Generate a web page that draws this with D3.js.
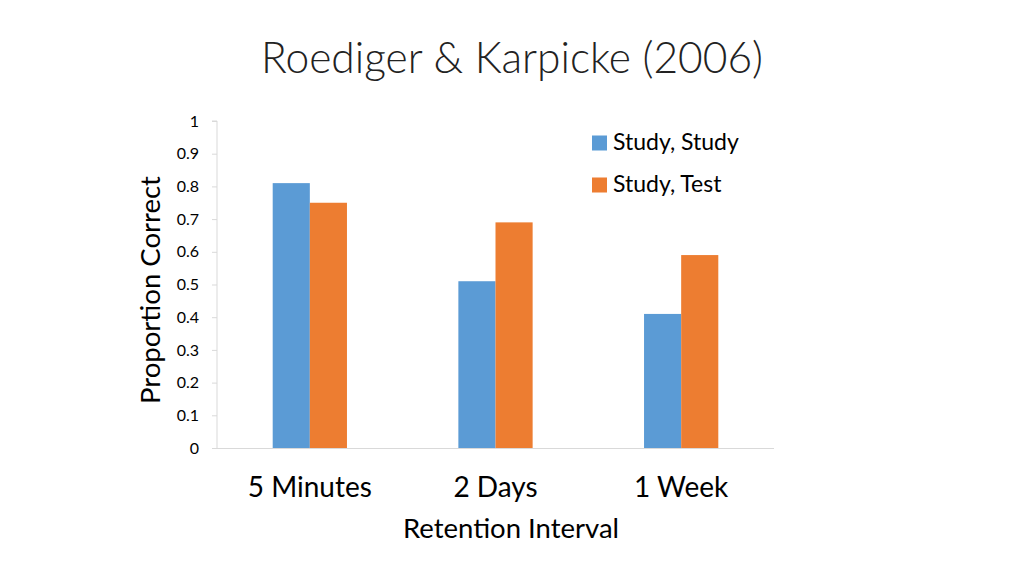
<!DOCTYPE html>
<html><head><meta charset="utf-8">
<script src="https://cdn.jsdelivr.net/npm/d3@7"></script>
<style>body{margin:0;background:#fff;} svg{display:block;}</style>
</head><body>
<script>
const categories = ["5 Minutes", "2 Days", "1 Week"];
const seriesNames = ["Study, Study", "Study, Test"];
const studyStudy = [0.81, 0.51, 0.41];
const studyTest = [0.75, 0.69, 0.59];
const yTicks = [0, 0.1, 0.2, 0.3, 0.4, 0.5, 0.6, 0.7, 0.8, 0.9, 1];
const colors = ["#5B9BD5", "#ED7D31"];

(function () {
const W = 1024, H = 576;
const font = "Lato, 'Open Sans', sans-serif";
const svg = d3.select("body").append("svg").attr("width", W).attr("height", H);

const mLeft = 217, mRight = 774, mTop = 121, mBottom = 448;
const x = d3.scaleBand().domain(categories).range([mLeft, mRight]);
const y = d3.scaleLinear().domain([0, 1]).range([mBottom, mTop]);

const groupW = x.bandwidth() * 0.4;
const inner = d3.scaleBand().domain(seriesNames).range([-groupW / 2, groupW / 2]);

const data = categories.map((c, i) => ({cat: c, vals: [studyStudy[i], studyTest[i]]}));

const g = svg.append("g");
data.forEach(d => {
  const cx = x(d.cat) + x.bandwidth() / 2;
  d.vals.forEach((v, j) => {
    g.append("rect")
      .attr("x", cx + inner(seriesNames[j]))
      .attr("y", y(v))
      .attr("width", inner.bandwidth())
      .attr("height", y(0) - y(v))
      .attr("fill", colors[j]);
  });
});

// y axis
const yAxis = d3.axisLeft(y).tickValues(yTicks).tickSize(5).tickPadding(13)
  .tickFormat(d => d === 0 ? "0" : d === 1 ? "1" : d3.format(".1f")(d));
const ya = svg.append("g").attr("transform", `translate(${mLeft},0)`).call(yAxis);
ya.select(".domain").attr("stroke", "#d9d9d9").attr("d", `M-5,${mTop}H0V${mBottom}`);
ya.selectAll(".tick line").attr("stroke", "#d9d9d9");
ya.selectAll(".tick text").attr("font-family", font).attr("font-size", 16).attr("fill", "#000");

// x axis
const xAxis = d3.axisBottom(x).tickSize(0).tickPadding(0);
const xa = svg.append("g").attr("transform", `translate(0,${mBottom})`).call(xAxis);
xa.select(".domain").attr("stroke", "#d9d9d9").attr("d", `M${mLeft},0.5H${mRight}`);
xa.selectAll(".tick text").attr("font-family", font).attr("font-size", 28).attr("fill", "#000")
  .attr("y", 497 - mBottom).attr("dy", null);

// title
svg.append("text").attr("x", 512).attr("y", 73).attr("text-anchor", "middle")
  .attr("font-family", font).attr("font-weight", 300).attr("font-size", 42.5).attr("fill", "#222")
  .text("Roediger & Karpicke (2006)");

// axis titles
svg.append("text").attr("x", 511).attr("y", 538).attr("text-anchor", "middle")
  .attr("font-family", font).attr("font-size", 27.5).attr("fill", "#000").text("Retention Interval");
svg.append("text").attr("transform", "translate(160,290) rotate(-90)").attr("text-anchor", "middle")
  .attr("font-family", font).attr("font-size", 27.5).attr("fill", "#000").text("Proportion Correct");

// legend
seriesNames.forEach((s, i) => {
  const base = 149.5 + i * 42;
  svg.append("rect").attr("x", 592).attr("y", base - 14).attr("width", 15).attr("height", 15).attr("fill", colors[i]);
  svg.append("text").attr("x", 613).attr("y", base).attr("font-family", font).attr("font-size", 23)
    .attr("fill", "#000").text(s);
});
})();
</script>
</body></html>
